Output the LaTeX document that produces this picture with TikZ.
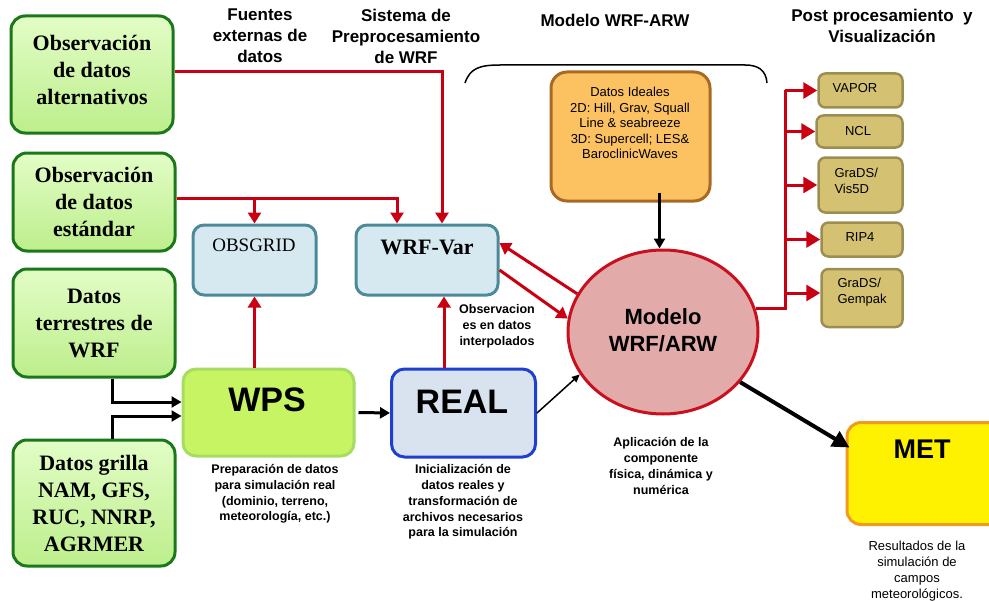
\documentclass[tikz,border=0pt]{standalone}
\usepackage{fontspec}
\setmainfont{Liberation Serif}
\setsansfont{Liberation Sans}
\usetikzlibrary{arrows.meta,shapes.geometric,calc}
\definecolor{gborder}{HTML}{1A781A}
\definecolor{gtop}{HTML}{E2FDC6}
\definecolor{gbot}{HTML}{BDEE8C}
\definecolor{bfill}{HTML}{D6E9F1}
\definecolor{bborder}{HTML}{4C8A9A}
\definecolor{wpsfill}{HTML}{C6F462}
\definecolor{wpsborder}{HTML}{A6DC62}
\definecolor{realfill}{HTML}{D9E3F0}
\definecolor{realborder}{HTML}{1E3FD0}
\definecolor{difill}{HTML}{FCC262}
\definecolor{diborder}{HTML}{A86A22}
\definecolor{modfill}{HTML}{E3AAAA}
\definecolor{modborder}{HTML}{C8101E}
\definecolor{pfill}{HTML}{D5C172}
\definecolor{pborder}{HTML}{9C8E52}
\definecolor{metborder}{HTML}{F09A22}
\definecolor{wred}{HTML}{C80012}
\begin{document}
\begin{tikzpicture}[x=1pt,y=-1pt,
  gfont/.style={font=\rmfamily\bfseries\fontsize{22}{27}\selectfont},
  gbox/.style={draw=gborder, line width=3pt, rounded corners=14pt, top color=gtop, bottom color=gbot, align=center, inner sep=0pt, gfont},
  bluebox/.style={draw=bborder, line width=3pt, rounded corners=11pt, fill=bfill},
  postbox/.style={draw=pborder, line width=2.5pt, rounded corners=7pt, fill=pfill},
  head/.style={align=center, font=\sffamily\bfseries\fontsize{17}{21}\selectfont},
  note/.style={align=center, font=\sffamily\bfseries\fontsize{12.5}{15.8}\selectfont},
  ptext/.style={font=\sffamily\fontsize{13}{15.5}\selectfont, align=left},
  redline/.style={draw=wred, line width=3pt},
  redarr/.style={redline, -{Triangle[length=11pt,width=13pt]}},
  bigredarr/.style={redline, -{Triangle[length=14pt,width=16pt]}},
  blkarr/.style={draw=black, line width=3pt, -{Triangle[length=10pt,width=11pt]}},
]
\useasboundingbox (0,0) rectangle (989,602);
\clip (0,0) rectangle (989,602);

% headings
\node[head] (hfu) at (260,36) {Fuentes\\externas de\\datos};
\node[head] (hsi) at (406,36) {Sistema de\\Preprocesamiento\\de WRF};
\node[head] (hmo) at (615,20) {Modelo WRF-ARW};
\node[head] (hpo) at (882,26) {Post procesamiento\ \ y\\Visualización};

% bracket
\draw[line width=1.5pt] (465,83) .. controls (470,68) and (480,65) .. (500,65) -- (745,65) .. controls (758,65) and (766,70) .. (767,83);

% green boxes
\node[gbox, minimum width=162pt, minimum height=117pt] (g1) at (92,74.5) {};
\node[align=center, gfont] (g1t) at (92,70) {Observación\\de datos\\alternativos};
\node[gbox, minimum width=162pt, minimum height=98pt] (g2) at (94,202) {Observación\\de datos\\estándar};
\node[gbox, minimum width=162pt, minimum height=108pt] (g3) at (94,323) {Datos\\terrestres de\\WRF};
\node[gbox, minimum width=162pt, minimum height=126pt] (g4) at (94,503) {Datos grilla\\NAM, GFS,\\RUC, NNRP,\\AGRMER};

% blue boxes
\node[bluebox, minimum width=123pt, minimum height=70pt] (ob) at (254.5,260) {};
\node[font=\rmfamily\fontsize{19}{22}\selectfont] (obt) at (254,245) {OBSGRID};
\node[bluebox, minimum width=142pt, minimum height=70pt] (wv) at (427,260) {};
\node[font=\rmfamily\bfseries\fontsize{22}{24}\selectfont] (wvt) at (427,247) {WRF-Var};

% WPS and REAL
\node[draw=wpsborder, line width=3pt, rounded corners=13pt, fill=wpsfill, minimum width=171pt, minimum height=87pt] (wps) at (268.5,412.5) {};
\node[font=\sffamily\bfseries\fontsize{34}{36}\selectfont] (wpst) at (267,400) {WPS};
\node[draw=realborder, line width=3pt, rounded corners=13pt, fill=realfill, minimum width=144pt, minimum height=88pt] (real) at (463.5,413) {};
\node[font=\sffamily\bfseries\fontsize{34}{36}\selectfont] (realt) at (462,402) {REAL};

% Datos ideales
\node[draw=diborder, line width=3pt, rounded corners=16pt, fill=difill, minimum width=159pt, minimum height=129pt] (di) at (630.5,136.5) {};
\node[align=center, font=\sffamily\fontsize{13}{15.5}\selectfont] (dit) at (630,123) {Datos Ideales\\2D: Hill, Grav, Squall\\Line \& seabreeze\\3D: Supercell; LES\&\\BaroclinicWaves};

% ellipse
\node[ellipse, draw=modborder, line width=3pt, fill=modfill, minimum width=190pt, minimum height=164pt, inner sep=0pt] (mod) at (663,332) {};
\node[align=center, font=\sffamily\bfseries\fontsize{22}{27}\selectfont] (modt) at (663,330) {Modelo\\WRF/ARW};

% post boxes
\node[postbox, minimum width=84pt, minimum height=34pt] (p1) at (860.5,90.5) {};
\node[ptext] (p1t) at (855,88) {VAPOR};
\node[postbox, minimum width=86pt, minimum height=32pt] (p2) at (859.5,131.5) {};
\node[ptext] (p2t) at (858,131) {NCL};
\node[postbox, minimum width=84pt, minimum height=55pt] (p3) at (860.5,185) {};
\node[ptext, anchor=west] (p3t) at (831,181) {GraDS/\\Vis5D};
\node[postbox, minimum width=81pt, minimum height=34pt] (p4) at (862,239.5) {};
\node[ptext] (p4t) at (860,237) {RIP4};
\node[postbox, minimum width=81pt, minimum height=58pt] (p5) at (862,298) {};
\node[ptext, anchor=west] (p5t) at (834,292) {GraDS/\\Gempak};

% MET
\node[draw=metborder, line width=3pt, rounded corners=14pt, fill=yellow, minimum width=158pt, minimum height=102pt] (met) at (926,473.5) {};
\node[font=\sffamily\bfseries\fontsize{27}{30}\selectfont] (mett) at (922,449) {MET};

% notes
\node[note] (nobs) at (497,326) {Observacion\\es en datos\\interpolados};
\node[note] (nwps) at (275,494) {Preparación de datos\\para simulación real\\(dominio, terreno,\\meteorología, etc.)};
\node[note] (nreal) at (463,502) {Inicialización de\\datos reales y\\transformación de\\archivos necesarios\\para la simulación};
\node[note] (nmod) at (661,466) {Aplicación de la\\componente\\física, dinámica y\\numérica};
\node[align=center, font=\sffamily\fontsize{13}{15.8}\selectfont] (nmet) at (917,571) {Resultados de la\\simulación de\\campos\\meteorológicos.};

% red connectors from observations
\coordinate (t1) at ([xshift=15pt]wv.north);
\coordinate (t2) at ([xshift=-30pt]wv.north);
\coordinate (s1) at ([yshift=3pt]g1.east);
\coordinate (s2) at ([yshift=4pt]g2.east);
\draw[redarr] (s1) -| (t1);
\draw[redarr] (s2) -| (t2);
\draw[redarr] (s2 -| ob.north) -- (ob.north);

% up arrows
\draw[redarr] (wps.north -| ob.south) -- (ob.south);
\coordinate (t3) at ([xshift=17pt]wv.south);
\draw[redarr] (real.north -| t3) -- (t3);

% WRF-Var <-> model
\draw[redarr] (mod.156) -- ([yshift=17pt]wv.east);
\draw[redarr] ([yshift=-10pt]wv.east) -- (mod.172);

% black inputs to WPS
\coordinate (b3) at ([xshift=18pt]g3.south);
\coordinate (b4) at ([xshift=18pt]g4.north);
\draw[blkarr] (b3) |- ([yshift=10.5pt]wps.west);
\draw[blkarr] (b4) |- ([yshift=-3.5pt]wps.west);
\draw[blkarr] ([xshift=3pt]wps.east) -- (real.west);

% REAL -> model
\draw[line width=1.5pt, -{Triangle[length=8pt,width=7pt]}] (real.east) -- (mod.207);

% Datos ideales -> model
\coordinate (d1) at ([xshift=29pt,yshift=10pt]di.south);
\draw[blkarr] (d1) -- (d1 |- mod.north);

% model -> MET
\draw[draw=black, line width=4pt, -{Triangle[length=17pt,width=17pt]}] (mod.-33) -- ([yshift=26pt,xshift=4pt]met.west);

% post-processing bus
\coordinate (busx) at (785,0);
\draw[redline] (mod.14) -| (busx |- p1.west);
\draw[bigredarr] (p1.west -| busx) -- (p1.west);
\draw[bigredarr] (p2.west -| busx) -- (p2.west);
\draw[bigredarr] (p3.west -| busx) -- (p3.west);
\draw[bigredarr] (p4.west -| busx) -- (p4.west);
\draw[bigredarr] ([yshift=5pt]p5.west -| busx) -- ([yshift=5pt]p5.west);
\end{tikzpicture}
\end{document}
